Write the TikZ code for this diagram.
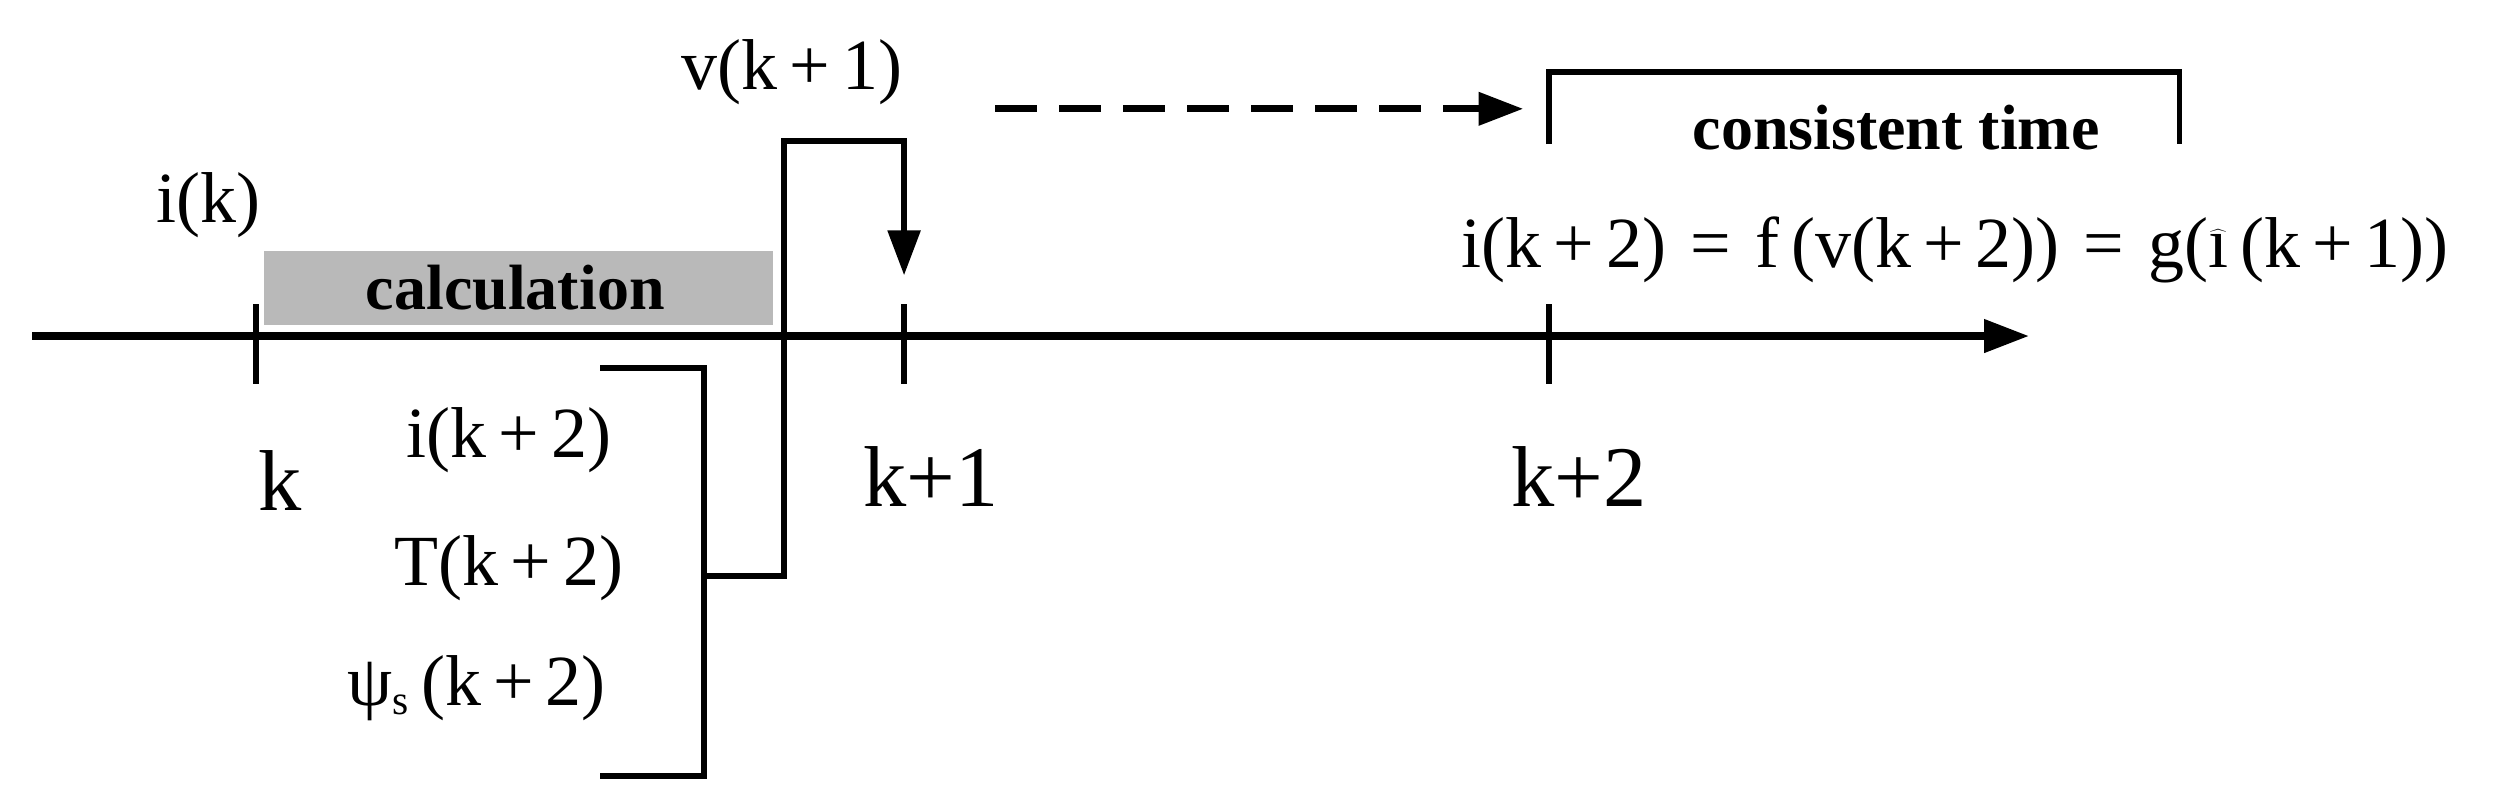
\documentclass[tikz,border=0pt]{standalone}
\usepackage{fontspec}
\setmainfont{Liberation Serif}
\usetikzlibrary{arrows.meta}
\begin{document}
\begin{tikzpicture}[x=1pt,y=-1pt,
  ln/.style={line width=3.5pt},
  big/.style={font=\fontsize{54}{56}\selectfont},
  mid/.style={font=\fontsize{45}{47}\selectfont},
  bld/.style={font=\bfseries\fontsize{40}{42}\selectfont},
  tip/.style={-{Triangle[length=28pt,width=20pt]}}]
\useasboundingbox (0,0) rectangle (1568,506);
\fill[gray!55] (165,157) rectangle (483,203);
\node[bld] (calc) at (322,180) {calculation};
\coordinate (a0) at (20,210); \coordinate (a1) at (1268,210);
\draw[ln,line width=4.5pt,tip] (a0) -- (a1);
\foreach \x/\n in {160/t0,565/t1,968/t2}{\coordinate (\n a) at (\x,190); \coordinate (\n b) at (\x,240); \draw[ln] (\n a)--(\n b);}
\node[mid] (ik) at (130,128) {i(k)};
\node[big] (k) at (175,300) {k};
\node[big] (k1) at (582,298) {k+1};
\node[big] (k2) at (987,298) {k+2};
\node[mid] (i2) at (318,275) {i(k\,+\,2)};
\node[mid] (T2) at (318,355) {T(k\,+\,2)};
\node[mid] (p2) at (298,430) {ψ\raisebox{-6pt}{\fontsize{26}{28}\selectfont s}\,(k\,+\,2)};
\node[mid] (v1) at (495,45) {v(k\,+\,1)};
\coordinate (b1) at (375,230); \coordinate (b2) at (440,230); \coordinate (b3) at (440,485); \coordinate (b4) at (375,485);
\draw[ln] (b1)--(b2)--(b3)--(b4);
\coordinate (c1) at (440,360); \coordinate (c2) at (490,360); \coordinate (c3) at (490,88); \coordinate (c4) at (565,88); \coordinate (c5) at (565,172);
\draw[ln,tip] (c1)--(c2)--(c3)--(c4)--(c5);
\coordinate (d1) at (622,68); \coordinate (d2) at (952,68);
\draw[ln,line width=4.5pt,dash pattern=on 26pt off 14pt,tip] (d1)--(d2);
\coordinate (e1) at (968,90); \coordinate (e2) at (968,45); \coordinate (e3) at (1362,45); \coordinate (e4) at (1362,90);
\draw[ln] (e1)--(e2)--(e3)--(e4);
\node[bld] (ct) at (1185,80) {consistent time};
\node[mid] (eq) at (1222,156) {i(k\,+\,2)\,\,=\,\,f\,(v(k\,+\,2))\,\,=\,\,g($\widehat{\textrm{\i}}$\,(k\,+\,1))};
\end{tikzpicture}
\end{document}
